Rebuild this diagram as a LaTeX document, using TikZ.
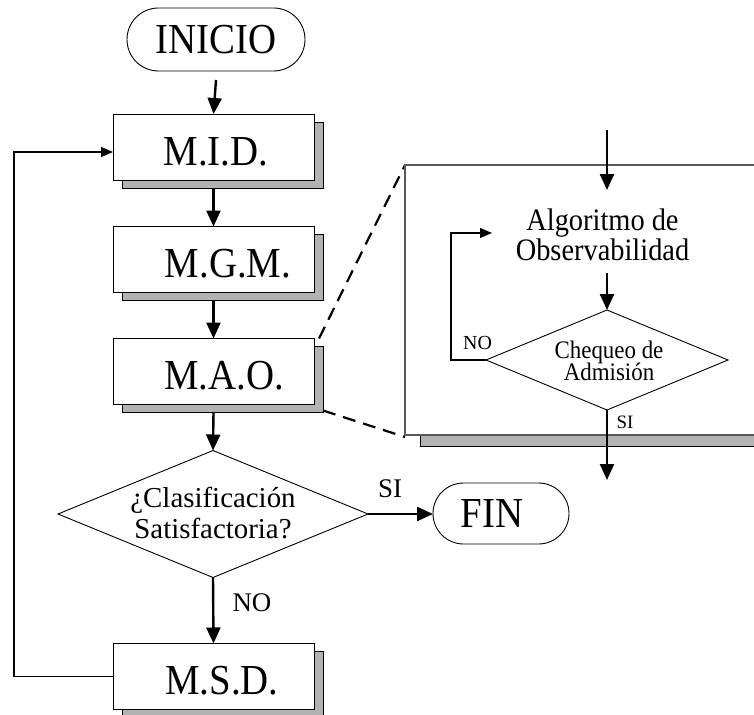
\documentclass[tikz,border=0pt]{standalone}
\usepackage{fontspec}
\setmainfont{Liberation Serif}
\usetikzlibrary{arrows.meta,shapes.geometric,shapes.misc,shadows}
% slightly taller lettering
\newcommand\tallbox[1]{\scalebox{1}[1.1]{#1}}

\begin{document}
\begin{tikzpicture}[x=1bp,y=-1bp,
  every node/.style={inner sep=0pt, outer sep=0pt},
  big/.style={font=\fontsize{39}{41}\selectfont},
  proc/.style={draw, line width=0.9bp, fill=white,
    minimum width=201bp, minimum height=66bp, big,
    text height=36bp, text depth=0bp,
    drop shadow={shadow xshift=9bp, shadow yshift=-8bp,
      fill=black!30, draw=black, line width=0.9bp, opacity=1}},
  term/.style={draw, rounded rectangle, line width=0.9bp, fill=white, big},
  decision/.style={draw, diamond, line width=0.9bp},
  flow/.style={line width=2.4bp, -{Triangle[length=16bp,width=14bp]}},
  back/.style={line width=1.1bp, -{Triangle[length=12bp,width=10bp]}},
  link/.style={line width=2.2bp, dash pattern=on 13bp off 8bp},
  lbl/.style={font=\fontsize{27}{27}\selectfont},
]
\useasboundingbox (0,0) rectangle (754,715);
\clip (0,0) rectangle (754,715);
\fill[white] (0,0) rectangle (754,715);

% ---- main flow ----
\node[term, minimum width=178bp, minimum height=63bp] (ini) at (216,39.5) {\tallbox{INICIO}};
\node[proc] (mid) at (213.5,147) {\hspace*{5bp}\tallbox{M.I.D.}};
\node[proc] (mgm) at (213.5,259.5) {\hspace*{29bp}\tallbox{M.G.M.}};
\node[proc] (mao) at (213.5,371.5) {\hspace*{21bp}\tallbox{M.A.O.}};
\node[decision, minimum width=310bp, minimum height=127bp] (clas) at (213,514) {};
\node[font=\fontsize{29}{31}\selectfont, align=center] (clast) at (213,512.6)
  {¿Clasificación\\Satisfactoria?};
\node[term, minimum width=136bp, minimum height=61bp] (fin) at (501,513.5) {\tallbox{FIN}\hspace*{18bp}};
\node[proc] (msd) at (213.5,676.5) {\hspace*{17bp}\tallbox{M.S.D.}};

\draw[flow] ([yshift=-9bp]ini.south) -- (mid.north);
\draw[flow] ([yshift=-8bp]mid.south) -- (mgm.north);
\draw[flow] ([yshift=-8bp]mgm.south) -- (mao.north);
\draw[flow] ([yshift=-8bp]mao.south) -- (clas.north);
\draw[flow] (clas.east) -- (clas.east -| fin.west);
\draw[flow] (clas.south) -- (msd.north);
\draw[back] (msd.west) -- ++(-99,0) |- ([yshift=-5bp]mid.west);

\node[lbl] (si) at (390,489) {SI};
\node[lbl] (no) at (252,603) {NO};

% ---- detail of M.A.O. ----
\draw[link] ([xshift=5bp]mao.north east) -- (405,165);
\draw[link] ([xshift=9bp,yshift=-6bp]mao.south east) -- (405,437);

\draw[fill=black!30, line width=1bp] (420,176) rectangle (780,446);
\node[draw=black!65, fill=white, line width=1.2bp, anchor=north west,
  minimum width=370bp, minimum height=270bp] (zoom) at (405,165) {};

\coordinate (inTop) at (607,130);
\coordinate (inTopEnd) at (607,190);
\coordinate (algoOut) at (607,273);
\coordinate (loopEnd) at (492,233);
\coordinate (inOut) at (607,480);

\node[font=\fontsize{28.5}{25}\selectfont, align=center] (algo) at (602.5,234.8)
  {\tallbox{Algoritmo de}\\\tallbox{Observabilidad}};
\node[decision, minimum width=242bp, minimum height=100bp] (chk) at (607,360) {};
\node[font=\fontsize{23}{23}\selectfont, align=center] (chkt) at (609,360.9)
  {\tallbox{Chequeo de}\\\tallbox{Admisión}};

\draw[flow] (inTop) -- (inTopEnd);
\draw[flow] (algoOut) -- (chk.north);
\draw[back] (chk.west) -- ++(-35,0) |- (loopEnd);
\draw[flow] (chk.south) -- (inOut);

\node[font=\fontsize{20}{20}\selectfont] (noIn) at (477.5,342.5) {NO};
\node[font=\fontsize{19}{19}\selectfont] (siIn) at (625,422.5) {SI};
\end{tikzpicture}
\end{document}
